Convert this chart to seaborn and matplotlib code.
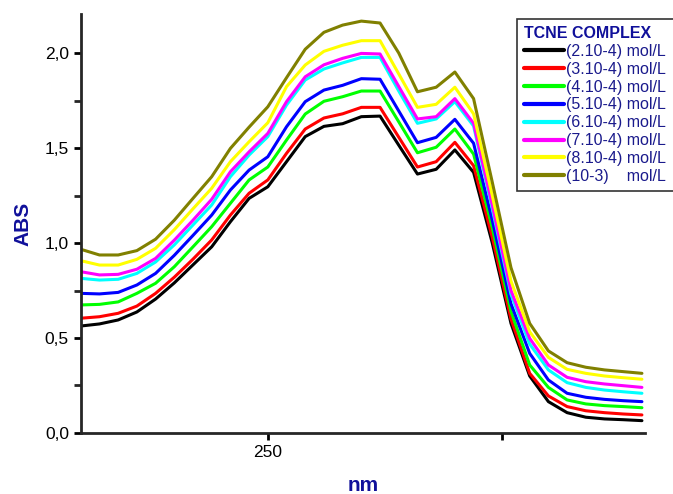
import numpy as np
import pandas as pd
import matplotlib
matplotlib.use('Agg')
import matplotlib.pyplot as plt
import seaborn as sns
from matplotlib.ticker import MultipleLocator, FuncFormatter

# wavelengths (nm), one reading every 4 nm
wavelength = list(range(210, 331, 4))

conc_labels = ['(2.10-4) mol/L', '(3.10-4) mol/L', '(4.10-4) mol/L', '(5.10-4) mol/L',
               '(6.10-4) mol/L', '(7.10-4) mol/L', '(8.10-4) mol/L', '(10-3)    mol/L']

abs_2e4 = [0.563, 0.574, 0.595, 0.637, 0.705, 0.79, 0.885, 0.98, 1.112, 1.235, 1.296,
           1.428, 1.56, 1.614, 1.628, 1.665, 1.668, 1.515, 1.363, 1.388, 1.49, 1.372,
           1.0, 0.577, 0.30, 0.165, 0.107, 0.083, 0.074, 0.07, 0.065]
abs_3e4 = [0.604, 0.612, 0.63, 0.668, 0.735, 0.82, 0.915, 1.016, 1.147, 1.262, 1.332,
           1.472, 1.60, 1.658, 1.68, 1.714, 1.714, 1.557, 1.40, 1.428, 1.53, 1.407,
           1.03, 0.60, 0.314, 0.195, 0.139, 0.117, 0.107, 0.10, 0.095]
abs_4e4 = [0.674, 0.677, 0.69, 0.735, 0.788, 0.875, 0.98, 1.086, 1.209, 1.332, 1.40,
           1.542, 1.679, 1.746, 1.77, 1.80, 1.80, 1.638, 1.475, 1.504, 1.60, 1.468,
           1.08, 0.64, 0.358, 0.24, 0.174, 0.153, 0.144, 0.139, 0.133]
abs_5e4 = [0.735, 0.732, 0.74, 0.779, 0.84, 0.935, 1.04, 1.147, 1.279, 1.384, 1.454,
           1.612, 1.744, 1.805, 1.83, 1.865, 1.862, 1.695, 1.528, 1.556, 1.651, 1.525,
           1.12, 0.68, 0.419, 0.279, 0.209, 0.188, 0.177, 0.17, 0.165]
abs_6e4 = [0.814, 0.805, 0.809, 0.84, 0.90, 0.99, 1.095, 1.20, 1.349, 1.463, 1.56,
           1.726, 1.858, 1.916, 1.948, 1.977, 1.977, 1.80, 1.63, 1.653, 1.744, 1.616,
           1.18, 0.73, 0.468, 0.332, 0.265, 0.24, 0.226, 0.217, 0.209]
abs_7e4 = [0.849, 0.832, 0.835, 0.862, 0.919, 1.015, 1.12, 1.23, 1.375, 1.48, 1.577,
           1.744, 1.875, 1.938, 1.972, 1.998, 1.995, 1.824, 1.653, 1.665, 1.76, 1.63,
           1.20, 0.75, 0.498, 0.358, 0.293, 0.27, 0.258, 0.249, 0.24]
abs_8e4 = [0.907, 0.884, 0.884, 0.914, 0.972, 1.07, 1.18, 1.288, 1.428, 1.533, 1.633,
           1.823, 1.937, 2.009, 2.041, 2.065, 2.065, 1.89, 1.714, 1.73, 1.82, 1.68,
           1.25, 0.80, 0.533, 0.398, 0.335, 0.314, 0.30, 0.291, 0.283]
abs_1e3 = [0.967, 0.937, 0.937, 0.96, 1.02, 1.12, 1.235, 1.349, 1.498, 1.61, 1.717,
           1.87, 2.02, 2.109, 2.147, 2.168, 2.158, 2.0, 1.796, 1.82, 1.90, 1.76,
           1.32, 0.87, 0.577, 0.432, 0.37, 0.346, 0.332, 0.323, 0.314]

series = [abs_2e4, abs_3e4, abs_4e4, abs_5e4, abs_6e4, abs_7e4, abs_8e4, abs_1e3]
colors = ['#000000', '#ff0000', '#00ff00', '#0000ff', '#00ffff', '#ff00ff', '#ffff00', '#808000']

# long-form table for seaborn
df = pd.concat([pd.DataFrame({'nm': wavelength, 'ABS': s, 'conc': lab})
                for s, lab in zip(series, conc_labels)], ignore_index=True)

sns.set_style('ticks')
plt.rcParams['font.family'] = ['Liberation Sans', 'DejaVu Sans']

fig = plt.figure(figsize=(6.73, 4.94), dpi=100)
ax = fig.add_axes([0.12, 0.1235, 0.838, 0.848])

sns.lineplot(data=df, x='nm', y='ABS', hue='conc', hue_order=conc_labels,
             palette=dict(zip(conc_labels, colors)), linewidth=2.2, ax=ax, legend=False)

ax.set_xlim(210, 330.6)
ax.set_ylim(0, 2.205)

ax.set_xticks([250, 300])
ax.set_xticklabels(['250', ''])
ax.yaxis.set_major_locator(MultipleLocator(0.5))
ax.yaxis.set_minor_locator(MultipleLocator(0.25))
ax.yaxis.set_major_formatter(FuncFormatter(lambda v, p: f'{v:.1f}'.replace('.', ',')))

for side in ['top', 'right']:
    ax.spines[side].set_visible(False)
for side in ['left', 'bottom']:
    ax.spines[side].set_linewidth(2)
ax.tick_params(axis='both', which='major', direction='out', length=5, width=2,
               labelsize=12.5, colors='black')
ax.tick_params(axis='y', which='minor', direction='out', length=5, width=2)

ax.set_xlabel('nm', fontsize=15, fontweight='bold', color='#10109a', labelpad=12)
ax.set_ylabel('ABS', fontsize=15, fontweight='bold', color='#10109a', labelpad=9)

handles = [plt.Line2D([], [], color=c, linewidth=3) for c in colors]
leg = fig.legend(handles, conc_labels, title='TCNE COMPLEX', loc='upper left',
                 bbox_to_anchor=(0.768, 0.962), frameon=True, fancybox=False,
                 fontsize=11.5, title_fontsize=11.5, handlelength=2.5, handletextpad=0.15,
                 labelspacing=0.18, borderpad=0.45, borderaxespad=0, alignment='left')
leg.get_frame().set_edgecolor('black')
leg.get_frame().set_linewidth(1.2)
leg.get_title().set_fontweight('bold')
leg.get_title().set_color('#10109a')
for t in leg.get_texts():
    t.set_color('#1a1a8c')

fig.savefig('out.png', dpi=100)
